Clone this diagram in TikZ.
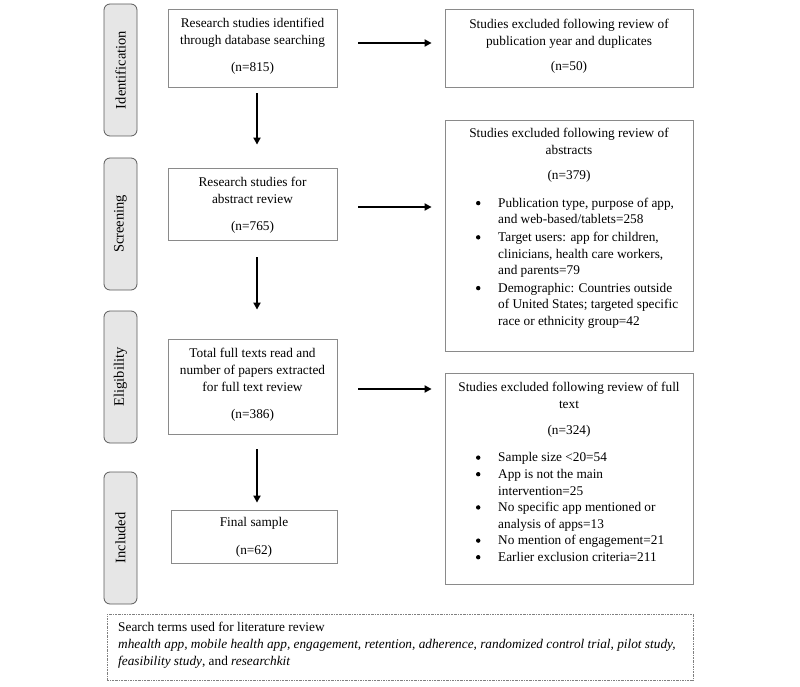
\documentclass[tikz,border=0pt]{standalone}
\usepackage{fontspec}
\setmainfont{Liberation Serif}
\usetikzlibrary{arrows.meta}
\definecolor{boxline}{HTML}{8A8A8A}
\definecolor{labfill}{HTML}{E6E6E6}
\definecolor{labline}{HTML}{5A5A5A}
\newcommand{\bdot}{\tikz[baseline=-4.2pt]\fill[black] (0pt,0pt) circle (2.2pt);}
\tikzset{
  x=1pt,y=-1pt,
  fbox/.style={draw=boxline,line width=0.8pt,rectangle,inner sep=0pt},
  stage/.style={draw=labline,fill=labfill,line width=0.8pt,rounded corners=6pt,rotate=90,
     minimum width=132pt,minimum height=33pt,inner sep=0pt,font=\fontsize{14.5}{17}\selectfont},
  txt/.style={inner sep=0pt,align=center,font=\fontsize{13.3}{17}\selectfont},
  blist/.style={inner sep=0pt,anchor=north west,font=\fontsize{13.3}{16.6}\selectfont},
  arr/.style={line width=1.8pt,-{Triangle[length=7pt,width=7pt]}},
}
\begin{document}
\begin{tikzpicture}
\useasboundingbox (0,0) rectangle (800,687);
% stage labels
\node[stage] (sid) at (120.5,70) {Identification};
\node[stage] (ssc) at (120.5,224) {Screening};
\node[stage] (sel) at (120.5,377) {Eligibility};
\node[stage] (sin) at (120.5,538) {Included};
% left boxes
\node[fbox,minimum width=169pt,minimum height=78pt] (b1) at (252.5,48) {};
\node[txt] (b1t) at (252.5,46) {Research studies identified\\through database searching\\[10pt](n=815)};
\node[fbox,minimum width=169pt,minimum height=72pt] (b2) at (252.5,204) {};
\node[txt] (b2t) at (252.5,205) {Research studies for\\abstract review\\[10pt](n=765)};
\node[fbox,minimum width=169pt,minimum height=95pt] (b3) at (252.5,386.5) {};
\node[txt] (b3t) at (252.5,384.5) {Total full texts read and\\number of papers extracted\\for full text review\\[10pt](n=386)};
\node[fbox,minimum width=166pt,minimum height=53pt] (b4) at (254,536.5) {};
\node[txt] (b4t) at (254,537.5) {Final sample\\[11pt](n=62)};
% right boxes
\node[fbox,minimum width=248pt,minimum height=78pt] (r1) at (569,48) {};
\node[txt] (r1t) at (569,46) {Studies excluded following review of\\publication year and duplicates\\[8pt](n=50)};
\node[fbox,minimum width=248pt,minimum height=231pt] (r2) at (569,235.5) {};
\node[txt,anchor=north] (r2t) at (569,128) {Studies excluded following review of\\abstracts\\[8pt](n=379)};
\node[blist] (r2b) at (475.8,195.5) {\begin{tabular}{@{}c@{\hspace{17.8pt}}l@{}}
\bdot & Publication type, purpose of app,\\
 & and web-based/tablets=258\\[1pt]
\bdot & Target users: app for children,\\
 & clinicians, health care workers,\\
 & and parents=79\\[1pt]
\bdot & Demographic: Countries outside\\
 & of United States; targeted specific\\
 & race or ethnicity group=42
\end{tabular}};
\node[fbox,minimum width=248pt,minimum height=211pt] (r3) at (569,478.5) {};
\node[txt,anchor=north] (r3t) at (569,382) {Studies excluded following review of full\\text\\[9pt](n=324)};
\node[blist] (r3b) at (475.8,450) {\begin{tabular}{@{}c@{\hspace{17.8pt}}l@{}}
\bdot & Sample size <20=54\\
\bdot & App is not the main\\
 & intervention=25\\
\bdot & No specific app mentioned or\\
 & analysis of apps=13\\
\bdot & No mention of engagement=21\\
\bdot & Earlier exclusion criteria=211
\end{tabular}};
% search terms box
\node[rectangle,draw=gray,line width=0.6pt,dash pattern=on 2pt off 1pt on 0.6pt off 1pt,
  minimum width=586pt,minimum height=66pt,inner sep=0pt] (st) at (400,647) {};
\node[txt,align=left,anchor=west] (stt) at (118,645) {Search terms used for literature review\\
\textit{mhealth app, mobile health app, engagement, retention, adherence, randomized control trial, pilot study,}\\
\textit{feasibility study}, and \textit{researchkit}};
% arrows
\draw[arr] ([shift={(4.5pt,-6pt)}]b1.south) -- ([shift={(4.5pt,23pt)}]b2.north);
\draw[arr] ([shift={(4.5pt,-17pt)}]b2.south) -- ([shift={(4.5pt,29pt)}]b3.north);
\draw[arr] ([shift={(4.5pt,-15pt)}]b3.south) -- ([shift={(3pt,7pt)}]b4.north);
\draw[arr] ([shift={(21pt,5pt)}]b1.east) -- ([shift={(-13pt,5pt)}]r1.west);
\draw[arr] ([shift={(21pt,-3pt)}]b2.east) -- ([shift={(-13pt,-3pt)}]b2.east -| r2.west);
\draw[arr] ([shift={(21pt,-2.5pt)}]b3.east) -- ([shift={(-13pt,-2.5pt)}]b3.east -| r3.west);
\end{tikzpicture}
\end{document}
